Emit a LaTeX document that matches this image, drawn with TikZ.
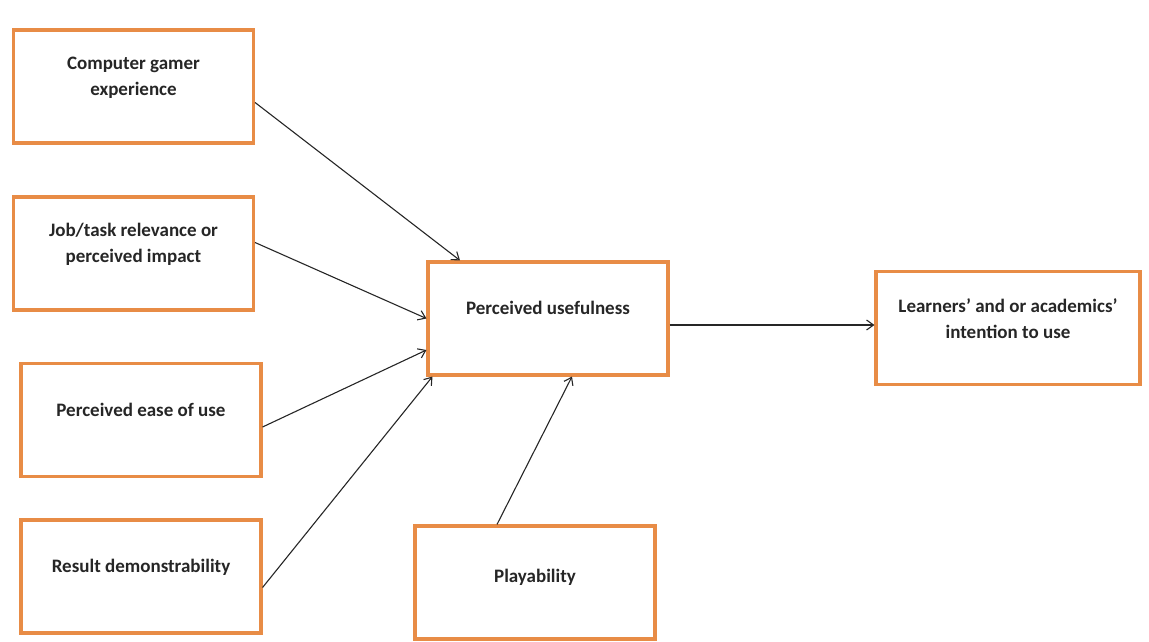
\documentclass[tikz,border=0pt]{standalone}
\usepackage{fontspec}
\setmainfont{Carlito}
\usetikzlibrary{arrows.meta}
\definecolor{boxorange}{RGB}{232,140,70}
\tikzset{
  box/.style={draw=boxorange, line width=3.1pt, fill=white, minimum width=#1, minimum height=113pt, inner sep=0pt},
  box/.default=240pt,
  lbl/.style={font=\fontsize{19}{26}\selectfont\bfseries, align=center, text=black!85},
  conn/.style={draw=black!85, line width=1.1pt, -{Straight Barb[length=7pt,width=10pt,line width=1.1pt]}},
}
\begin{document}
\begin{tikzpicture}[x=1pt,y=-1pt]
\useasboundingbox (0,0) rectangle (1149,642);
% boxes
\node[box] (b1) at (133.5,86.5) {};
\node[box] (b2) at (133.5,253.5) {};
\node[box] (b3) at (141,420) {};
\node[box] (b4) at (141,576.5) {};
\node[box] (b5) at (548,318.5) {};
\node[box] (b6) at (535,582.5) {};
\node[box=264pt] (b7) at (1008,328) {};
% labels
\node[lbl] (t1) at (133.5,78) {Computer gamer\\experience};
\node[lbl] (t2) at (133.5,244) {Job/task relevance or\\perceived impact};
\node[lbl] (t3) at (141,410) {Perceived ease of use};
\node[lbl] (t4) at (141,567) {Result demonstrability};
\node[lbl] (t5) at (548,308) {Perceived usefulness};
\node[lbl] (t6) at (535,577) {Playability};
\node[lbl] (t7) at (1008,319) {Learners’ and or academics’\\intention to use};
% connectors
\draw[conn] ([yshift=-16pt]b1.east) -- ([xshift=-88pt]b5.north);
\draw[conn] ([yshift=11pt]b2.east) -- ([yshift=0pt]b5.west);
\draw[conn] ([yshift=-7pt]b3.east) -- ([yshift=-31.5pt]b5.west);
\draw[conn] ([yshift=-11pt]b4.east) -- ([xshift=6pt]b5.south west);
\draw[conn] ([xshift=-38pt]b6.north) -- ([xshift=24pt]b5.south);
\draw[conn] ([yshift=-6.5pt]b5.east) -- ([yshift=3pt]b7.west);
\end{tikzpicture}
\end{document}
